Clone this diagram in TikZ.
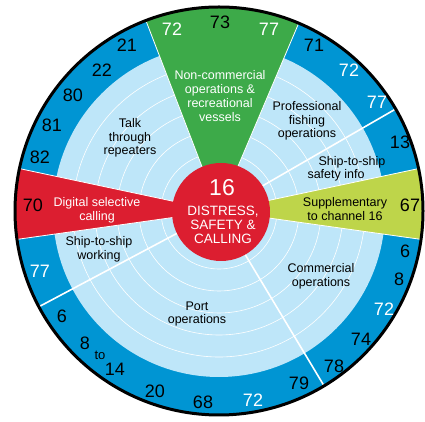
\documentclass[tikz,border=0pt]{standalone}
\usepackage{fontspec}
\setmainfont{Liberation Sans}
\definecolor{ringblue}{HTML}{0095D3}
\definecolor{paleblue}{HTML}{BEE6F9}
\definecolor{wedgegreen}{HTML}{3DAA49}
\definecolor{wedgered}{HTML}{DC1E30}
\definecolor{wedgelime}{HTML}{BED54A}
\begin{document}
\begin{tikzpicture}[x=1pt,y=1pt,
  num/.style={font=\fontsize{18}{18}\selectfont, inner sep=0pt},
  wnum/.style={num, text=white},
  lab/.style={font=\fontsize{12.5}{13.7}\selectfont, align=center, inner sep=0pt},
  wlab/.style={lab, text=white},
  wedgeedge/.style={draw=white, line width=0.8pt},
  sepline/.style={draw=white, line width=1.6pt},
  ringarc/.style={draw=white, line width=0.6pt}]
\useasboundingbox (0,0) rectangle (425,422);
\coordinate (C) at (219,211);
\coordinate (R) at (221,210);
% rings
\fill[ringblue] (C) circle (204);
\fill[paleblue] (C) circle (166);
\foreach \r in {58,80,102,124,146} \path[ringarc] (C) circle (\r);
% wedges
\path[fill=wedgegreen, wedgeedge] (C) -- ++(67:205) arc (67:111:205) -- cycle;
\path[fill=wedgered, wedgeedge] (C) -- ++(168:205) arc (168:188:205) -- cycle;
\path[fill=wedgelime, wedgeedge] (C) -- ++(-8:205) arc (-8:12:205) -- cycle;
% separators
\path[sepline] (C) -- ++(30:204);
\path[sepline] (C) -- ++(208:204);
\path[sepline] (C) -- ++(301:204);
% outer border
\draw[line width=3pt] (C) circle (204);
% centre
\fill[wedgered] (R) circle (49);
\node[text=white, font=\fontsize{23}{23}\selectfont, inner sep=0pt] (n16) at (222,234) {16};
\node[wlab, font=\fontsize{13.5}{14}\selectfont] (dsc) at (223,197) {DISTRESS,\\SAFETY \&\\CALLING};
% labels
\node[wlab] (noncom) at (220,326) {Non-commercial\\operations \&\\recreational\\vessels};
\node[lab] (talk) at (130,284) {Talk\\through\\repeaters};
\node[lab] (prof) at (307,301) {Professional\\fishing\\operations};
\node[lab] (sss1) at (352,260) {Ship-to-ship};
\node[lab] (sss2) at (336,247) {safety info};
\node[lab] (supp) at (345,213) {Supplementary\\to channel 16};
\node[wlab] (digi) at (97,212) {Digital selective\\calling};
\node[lab] (ssw) at (99,173) {Ship-to-ship\\working};
\node[lab] (port) at (197,108) {Port\\operations};
\node[lab] (comm) at (321,146) {Commercial\\operations};
% ring numbers
\node[wnum] (g72) at (172,393) {72};
\node[num]  (g73) at (220,400) {73};
\node[wnum] (g77) at (269,393) {77};
\node[num] (t21) at (127,377) {21};
\node[num] (t22) at (102,352) {22};
\node[num] (t80) at (73,327) {80};
\node[num] (t81) at (52,297) {81};
\node[num] (t82) at (40,265) {82};
\node[num] (d70) at (33,217) {70};
\node[wnum] (w77) at (40,151) {77};
\node[num] (p6) at (62,106) {6};
\node[num] (p8) at (85,79) {8};
\node[inner sep=0pt, font=\fontsize{13}{13}\selectfont] (pto) at (100,67) {to};
\node[num] (p14) at (115,53) {14};
\node[num] (p20) at (155,31) {20};
\node[num] (p68) at (203,20) {68};
\node[wnum] (p72) at (253,22) {72};
\node[num] (p79) at (299,39) {79};
\node[num] (c78) at (334,56) {78};
\node[num] (c74) at (361,83) {74};
\node[wnum] (c72) at (384,113) {72};
\node[num] (c8) at (399,143) {8};
\node[num] (c6) at (405,171) {6};
\node[num] (s67) at (410,217) {67};
\node[num] (s13) at (400,280) {13};
\node[wnum] (f77) at (377,320) {77};
\node[wnum] (f72) at (349,352) {72};
\node[num] (f71) at (314,377) {71};
\end{tikzpicture}
\end{document}
